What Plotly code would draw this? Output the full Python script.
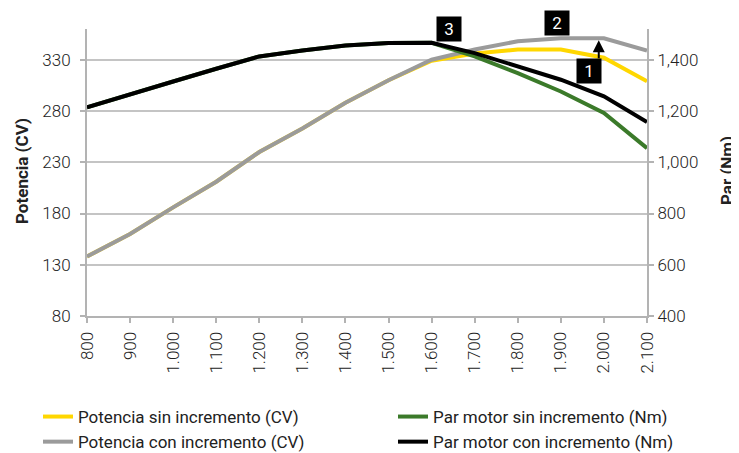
import plotly.graph_objects as go

rpm = [800, 900, 1000, 1100, 1200, 1300, 1400, 1500, 1600, 1700, 1800, 1900, 2000, 2100]
rpm_labels = ["800", "900", "1.000", "1.100", "1.200", "1.300", "1.400", "1.500",
              "1.600", "1.700", "1.800", "1.900", "2.000", "2.100"]

potencia_sin = [138, 160, 186, 211, 240, 263, 288, 310, 329, 336, 340, 340, 332, 309]
potencia_con = [138, 160, 186, 211, 240, 263, 288, 310, 330, 340, 348, 351, 351, 339]
par_sin = [1214, 1263, 1315, 1365, 1413, 1436, 1456, 1465, 1466, 1413, 1348, 1276, 1192, 1055]
par_con = [1214, 1263, 1315, 1365, 1413, 1436, 1456, 1465, 1466, 1426, 1374, 1322, 1257, 1157]

cv_ticks = [80, 130, 180, 230, 280, 330]
nm_ticks = [400, 600, 800, 1000, 1200, 1400]
nm_labels = ["400", "600", "800", "1,000", "1,200", "1,400"]

FONT = "Roboto"
TXT = "#222222"
AX = "#b3b3b3"
GRID = "#c4c4c4"

W, H = 731, 445  # page body has an 8px margin
L, T, PW, PH = 79, 21, 560, 287


def px_x(xp):
    return (xp - 8 - L) / PW


def px_y(yp):
    return 1 - (yp - 8 - T) / PH


fig = go.Figure()
fig.add_trace(go.Scatter(x=rpm, y=potencia_sin, name="Potencia sin incremento (CV)",
                         mode="lines", line=dict(color="#FFD700", width=4), yaxis="y",
                         legend="legend", legendgroup="a"))
fig.add_trace(go.Scatter(x=rpm, y=potencia_con, name="Potencia con incremento (CV)",
                         mode="lines", line=dict(color="#9B9B9B", width=4), yaxis="y",
                         legend="legend", legendgroup="b"))
fig.add_trace(go.Scatter(x=rpm, y=par_sin, name="Par motor sin incremento (Nm)",
                         mode="lines", line=dict(color="#3B7A2A", width=4), yaxis="y2",
                         legend="legend2", legendgroup="c"))
fig.add_trace(go.Scatter(x=rpm, y=par_con, name="Par motor con incremento (Nm)",
                         mode="lines", line=dict(color="#000000", width=4), yaxis="y2",
                         legend="legend2", legendgroup="d"))

legend_common = dict(orientation="v", xref="container", yref="container",
                     xanchor="left", yanchor="top", y=(H - 391) / H,
                     font=dict(family=FONT, size=17, color=TXT), itemwidth=30,
                     tracegroupgap=7, bgcolor="rgba(0,0,0,0)", traceorder="normal")

tickfont = dict(family=FONT, size=17, color=TXT, weight=300)

fig.update_layout(
    width=W, height=H,
    margin=dict(l=L, r=W - L - PW, t=T, b=H - T - PH, autoexpand=False),
    paper_bgcolor="white", plot_bgcolor="white",
    font=dict(family=FONT, size=16, color=TXT),
    showlegend=True,
    legend=dict(x=30 / W, **legend_common),
    legend2=dict(x=385 / W, **legend_common),
    xaxis=dict(range=[800, 2100], tickmode="array", tickvals=rpm, ticktext=rpm_labels,
               tickangle=-90, ticks="outside", ticklen=5, tickwidth=1.5, tickcolor=AX,
               showline=True, linecolor=AX, linewidth=2, showgrid=False, zeroline=False,
               automargin=False, ticklabelstandoff=2, tickfont=tickfont),
    yaxis=dict(range=[80, 360], tickmode="array", tickvals=cv_ticks,
               ticks="outside", ticklen=5, tickwidth=1.5, tickcolor=AX,
               showline=True, linecolor=AX, linewidth=2, automargin=False,
               showgrid=True, gridcolor=GRID, gridwidth=1.5, zeroline=False,
               ticklabelstandoff=6, tickfont=tickfont),
    yaxis2=dict(range=[400, 1520], overlaying="y", side="right", tickmode="array",
                tickvals=nm_ticks, ticktext=nm_labels, automargin=False,
                ticks="outside", ticklen=5, tickwidth=1.5, tickcolor=AX,
                showline=True, linecolor=AX, linewidth=2, showgrid=False, zeroline=False,
                tickfont=tickfont),
)

# Axis titles
title_font = dict(family=FONT, size=17, color=TXT)
fig.add_annotation(text="<b>Potencia (CV)</b>", xref="paper", yref="paper",
                   x=px_x(22), y=px_y(171), xanchor="center", yanchor="middle",
                   textangle=-90, showarrow=False, font=title_font)
fig.add_annotation(text="<b>Par (Nm)</b>", xref="paper", yref="paper",
                   x=px_x(727), y=px_y(171), xanchor="center", yanchor="middle",
                   textangle=-90, showarrow=False, font=title_font)

# Numbered markers
box = dict(showarrow=False, bgcolor="#000000", font=dict(family=FONT, size=17, color="white"),
           width=22, height=22, xref="x", yref="paper", xanchor="center", yanchor="middle")
fig.add_annotation(text="3", x=1640, y=px_y(29.5), **box)
fig.add_annotation(text="2", x=1892, y=px_y(23), **box)
fig.add_annotation(text="1", x=1966, y=px_y(71), **box)

# Arrow
fig.add_annotation(x=1988, y=349, ax=1988, ay=330, xref="x", yref="y", axref="x", ayref="y",
                   showarrow=True, arrowhead=2, arrowsize=1.2, arrowwidth=2,
                   arrowcolor="#000000", text="")

fig.write_html("out.html")
